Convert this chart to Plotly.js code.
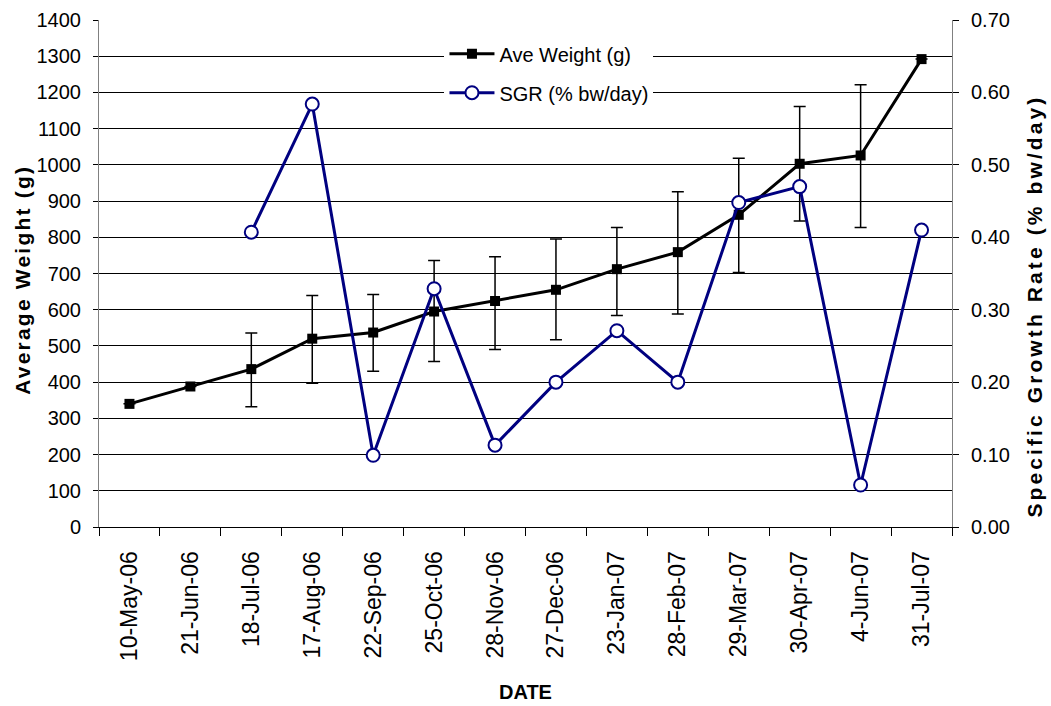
<!DOCTYPE html>
<html>
<head>
<meta charset="utf-8">
<script src="https://cdn.plot.ly/plotly-3.0.1.min.js"></script>
<style>
  html, body { margin: 0; padding: 0; background: #fff; }
  #chart { width: 1051px; height: 706px; }
</style>
</head>
<body>
<div id="chart"></div>
<script>
const categories = ['10-May-06','21-Jun-06','18-Jul-06','17-Aug-06','22-Sep-06','25-Oct-06','28-Nov-06','27-Dec-06','23-Jan-07','28-Feb-07','29-Mar-07','30-Apr-07','4-Jun-07','31-Jul-07'];
const aveWeight = [340, 388, 436, 520, 537, 595, 624, 655, 712, 759, 862, 1003, 1026, 1292];
const errPlus  = [null, null, 100, 119, 105, 141, 122, 140, 115, 167, 156, 158, 195, null];
const errMinus = [null, null, 104, 123, 107, 138, 134, 138, 128, 171, 159, 158, 199, null];
const sgr = [null, null, 0.407, 0.584, 0.099, 0.329, 0.113, 0.200, 0.271, 0.200, 0.448, 0.470, 0.058, 0.410];
const weightTicks = [0,100,200,300,400,500,600,700,800,900,1000,1100,1200,1300,1400];
const sgrTicks = [0,0.1,0.2,0.3,0.4,0.5,0.6,0.7];
const titles = {x: 'DATE', y: 'Average Weight (g)', y2: 'Specific Growth Rate (% bw/day)'};

const FONT = 'Liberation Sans, Arial, Helvetica, sans-serif';

const traces = [
  {
    x: categories, y: aveWeight, name: 'Ave Weight (g)', type: 'scatter', mode: 'lines+markers',
    legendgroup: 'a',
    line: {color: '#000000', width: 3},
    marker: {symbol: 'square', size: 10, color: '#000000'},
    error_y: {type: 'data', array: errPlus, arrayminus: errMinus, symmetric: false,
              color: '#000000', thickness: 1.5, width: 6},
    yaxis: 'y'
  },
  {
    x: categories, y: sgr, name: 'SGR (% bw/day)', type: 'scatter', mode: 'lines+markers',
    legendgroup: 'b',
    line: {color: '#000080', width: 3},
    marker: {symbol: 'circle', size: 13, color: '#ffffff', line: {color: '#000080', width: 2}},
    connectgaps: false,
    yaxis: 'y2'
  }
];

const titleFont = {family: FONT, size: 21, color: '#000', weight: 'bold'};

const layout = {
  width: 1051, height: 706,
  margin: {l: 99, r: 99, t: 20, b: 179, pad: 0},
  paper_bgcolor: '#ffffff', plot_bgcolor: '#ffffff',
  font: {family: FONT, size: 20, color: '#000000'},
  showlegend: true,
  legend: {
    x: 0.405, y: 0.972, xanchor: 'left', yanchor: 'top',
    bgcolor: '#ffffff', borderwidth: 0, itemwidth: 45,
    font: {family: FONT, size: 20, color: '#000000'},
    traceorder: 'grouped', tracegroupgap: 10
  },
  xaxis: {
    type: 'category', range: [-0.5, 13.5], tickson: 'boundaries',
    ticks: 'outside', ticklen: 8, tickcolor: '#000', tickwidth: 1,
    showline: true, linecolor: '#000', linewidth: 1,
    showgrid: false, zeroline: false, automargin: false,
    tickangle: -90, ticklabelstandoff: 14,
    tickfont: {family: FONT, size: 23, color: '#000'},
    fixedrange: true
  },
  yaxis: {
    range: [0, 1400], tickvals: weightTicks, ticks: 'outside', ticklen: 5, tickcolor: '#000',
    showline: true, linecolor: '#808080', linewidth: 1,
    showgrid: true, gridcolor: '#000000', gridwidth: 1, zeroline: false, automargin: false,
    tickfont: {family: FONT, size: 20, color: '#000'},
    ticklabelstandoff: 8,
    fixedrange: true
  },
  yaxis2: {
    range: [0, 0.7], tickvals: sgrTicks, tickformat: '.2f', overlaying: 'y', side: 'right',
    ticks: 'outside', ticklen: 6, tickcolor: '#000',
    showline: true, linecolor: '#808080', linewidth: 1,
    showgrid: false, zeroline: false, automargin: false,
    tickfont: {family: FONT, size: 20, color: '#000'},
    ticklabelstandoff: 8,
    fixedrange: true
  },
  annotations: [
    {text: titles.x, xref: 'paper', yref: 'paper', x: 0.5, y: (527 - 692) / 507,
     xanchor: 'center', yanchor: 'middle', showarrow: false, font: {family: FONT, size: 20, color: '#000', weight: 'bold'}},
    {text: titles.y, xref: 'paper', yref: 'paper', x: (22 - 99) / 853, y: (527 - 281) / 507,
     xanchor: 'center', yanchor: 'middle', textangle: -90, showarrow: false, font: titleFont},
    {text: titles.y2, xref: 'paper', yref: 'paper', x: (1034 - 99) / 853, y: (527 - 308) / 507,
     xanchor: 'center', yanchor: 'middle', textangle: -90, showarrow: false, font: titleFont}
  ]
};

function spaceText(el, px) {
  if (!el) return;
  const n = Array.from(el.textContent).length;
  const dx = [];
  for (let i = 0; i < n; i++) dx.push(i === 0 ? 0 : px);
  el.setAttribute('dx', dx.join(' '));
}

function applySpacing() {
  const ann = document.querySelectorAll('#chart .annotation-text');
  spaceText(ann[1], 2.2);
  spaceText(ann[2], 3.1);
}

const gd = document.getElementById('chart');
Plotly.newPlot(gd, traces, layout, {displayModeBar: false, staticPlot: true}).then(function () {
  applySpacing();
  gd.on('plotly_afterplot', applySpacing);
});
</script>
</body>
</html>
